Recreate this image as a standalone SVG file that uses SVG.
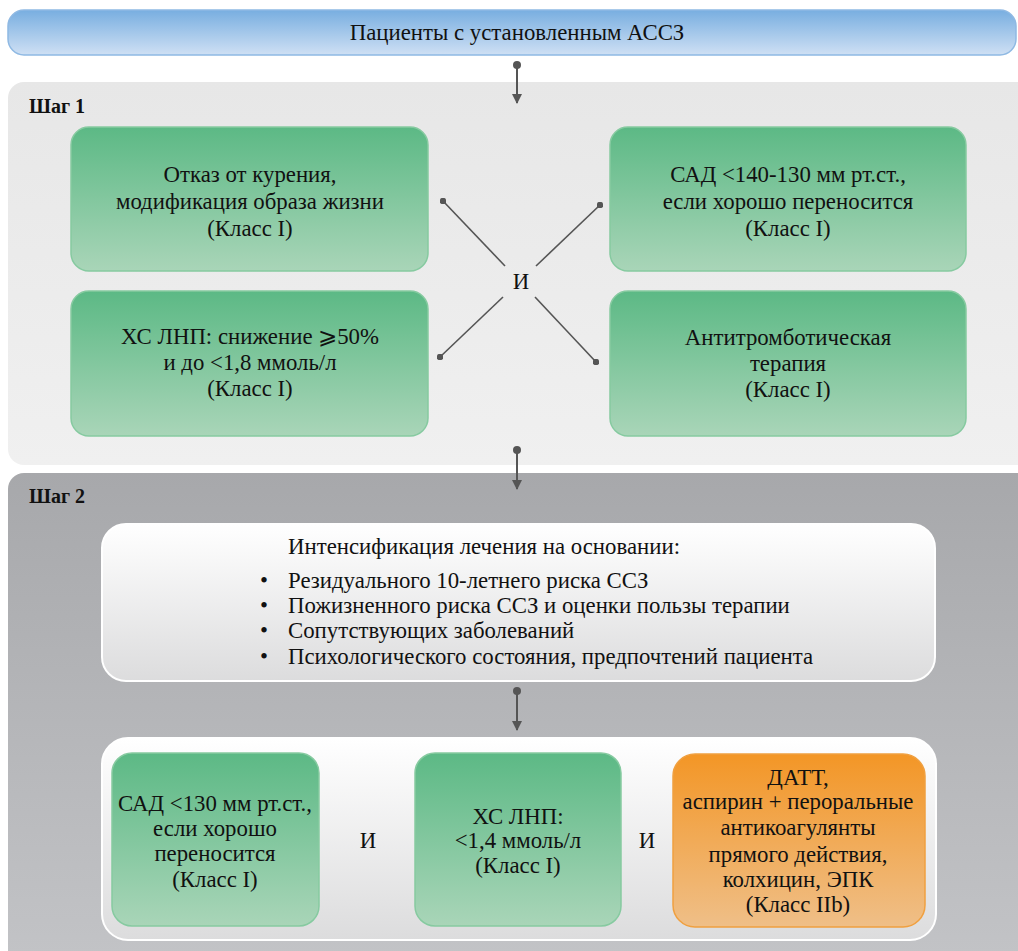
<svg xmlns="http://www.w3.org/2000/svg" width="1018" height="951" viewBox="0 0 1018 951">
  <defs>
    <linearGradient id="gBlue" x1="0" y1="0" x2="0" y2="1">
      <stop offset="0" stop-color="#78aee0"/>
      <stop offset="1" stop-color="#cfe0f4"/>
    </linearGradient>
    <linearGradient id="gStep1" x1="0" y1="0" x2="0" y2="1">
      <stop offset="0" stop-color="#e7e7e7"/>
      <stop offset="1" stop-color="#f0f0f0"/>
    </linearGradient>
    <linearGradient id="gStep2" x1="0" y1="0" x2="0" y2="1">
      <stop offset="0" stop-color="#a7a8ab"/>
      <stop offset="1" stop-color="#c3c4c7"/>
    </linearGradient>
    <linearGradient id="gWhite" x1="0" y1="0" x2="0" y2="1">
      <stop offset="0" stop-color="#ffffff"/>
      <stop offset="1" stop-color="#dcdcdd"/>
    </linearGradient>
    <linearGradient id="gGreen" x1="0" y1="0" x2="0" y2="1">
      <stop offset="0" stop-color="#5cb985"/>
      <stop offset="1" stop-color="#a9d5b8"/>
    </linearGradient>
    <linearGradient id="gOrange" x1="0" y1="0" x2="0" y2="1">
      <stop offset="0" stop-color="#f39626"/>
      <stop offset="1" stop-color="#efbf88"/>
    </linearGradient>
    <marker id="arrowHead" viewBox="0 0 10 10" refX="9" refY="5" markerWidth="5" markerHeight="5" markerUnits="strokeWidth" orient="auto">
      <path d="M0,0 L10,5 L0,10 Z" fill="#555555"/>
    </marker>
    <marker id="dot" viewBox="0 0 10 10" refX="5" refY="5" markerWidth="4" markerHeight="4" markerUnits="strokeWidth">
      <circle cx="5" cy="5" r="5" fill="#555555"/>
    </marker>
  </defs>
  <style>
    text { font-family: 'Liberation Serif', 'Times New Roman', 'DejaVu Serif', serif; fill: #111111; }
    .t { font-size: 22.8px; text-anchor: middle; }
    .b { font-size: 22.8px; }
    .step { font-size: 20px; font-weight: bold; }
    .green { fill: url(#gGreen); stroke: #86caa0; stroke-width: 1.5; }
    .orange { fill: url(#gOrange); stroke: #f0a040; stroke-width: 1.5; }
    .conn { stroke: #555555; stroke-width: 2; fill: none; }
    .cross { stroke: #555555; stroke-width: 1.6; fill: none; marker-start: url(#dot); }
  </style>

  <rect width="1018" height="951" fill="#ffffff"/>

  <!-- top banner -->
  <g id="patients">
    <rect x="8" y="10" width="1008" height="45" rx="16" fill="url(#gBlue)" stroke="#8fb9e3" stroke-width="1.5"/>
    <text class="t" x="517" y="40">Пациенты с установленным АССЗ</text>
  </g>

  <!-- step 1 panel -->
  <g id="step1">
    <rect x="8" y="82" width="1030" height="383" rx="16" fill="url(#gStep1)"/>
    <text class="step" x="29" y="113">Шаг 1</text>
  </g>

  <g id="smoking">
    <rect class="green" x="71" y="127" width="357" height="144" rx="18"/>
    <text class="t" x="250" y="182">Отказ от курения,</text>
    <text class="t" x="250" y="209">модификация образа жизни</text>
    <text class="t" x="250" y="236">(Класс I)</text>
  </g>

  <g id="sbp1">
    <rect class="green" x="610" y="127" width="356" height="144" rx="18"/>
    <text class="t" x="788" y="182">САД &lt;140-130 мм рт.ст.,</text>
    <text class="t" x="788" y="209">если хорошо переносится</text>
    <text class="t" x="788" y="236">(Класс I)</text>
  </g>

  <g id="ldl1">
    <rect class="green" x="71" y="291" width="357" height="145" rx="18"/>
    <text class="t" x="250" y="344">ХС ЛНП: снижение ⩾50%</text>
    <text class="t" x="250" y="370">и до &lt;1,8 ммоль/л</text>
    <text class="t" x="250" y="396">(Класс I)</text>
  </g>

  <g id="antithrombotic">
    <rect class="green" x="610" y="291" width="356" height="145" rx="18"/>
    <text class="t" x="788" y="345">Антитромботическая</text>
    <text class="t" x="788" y="371">терапия</text>
    <text class="t" x="788" y="397">(Класс I)</text>
  </g>

  <g id="and1">
    <text class="t" x="521" y="289">И</text>
  </g>

  <!-- step 2 panel -->
  <g id="step2">
    <rect x="8" y="473" width="1030" height="500" rx="16" fill="url(#gStep2)"/>
    <text class="step" x="29" y="503">Шаг 2</text>
  </g>

  <g id="intensification">
    <rect x="102" y="524" width="833" height="157" rx="24" fill="url(#gWhite)" stroke="#ffffff" stroke-width="2"/>
    <text class="b" x="288" y="554">Интенсификация лечения на основании:</text>
    <text class="b" x="260" y="588">•</text>
    <text class="b" x="288" y="588">Резидуального 10-летнего риска ССЗ</text>
    <text class="b" x="260" y="613">•</text>
    <text class="b" x="288" y="613">Пожизненного риска ССЗ и оценки пользы терапии</text>
    <text class="b" x="260" y="638">•</text>
    <text class="b" x="288" y="638">Сопутствующих заболеваний</text>
    <text class="b" x="260" y="664">•</text>
    <text class="b" x="288" y="664">Психологического состояния, предпочтений пациента</text>
  </g>

  <g id="targets">
    <rect x="102" y="738" width="834" height="202" rx="26" fill="url(#gWhite)" stroke="#ffffff" stroke-width="2"/>
  </g>

  <g id="sbp2">
    <rect class="green" x="112" y="753" width="207" height="173" rx="20"/>
    <text class="t" x="215" y="811">САД &lt;130 мм рт.ст.,</text>
    <text class="t" x="215" y="836">если хорошо</text>
    <text class="t" x="215" y="861">переносится</text>
    <text class="t" x="215" y="887">(Класс I)</text>
  </g>

  <g id="and2">
    <text class="t" x="368" y="848">И</text>
  </g>

  <g id="ldl2">
    <rect class="green" x="415" y="753" width="206" height="173" rx="20"/>
    <text class="t" x="518" y="824">ХС ЛНП:</text>
    <text class="t" x="518" y="848">&lt;1,4 ммоль/л</text>
    <text class="t" x="518" y="873">(Класс I)</text>
  </g>

  <g id="and3">
    <text class="t" x="647" y="848">И</text>
  </g>

  <g id="dapt">
    <rect class="orange" x="673" y="754" width="252" height="173" rx="22"/>
    <text class="t" x="798" y="785">ДАТТ,</text>
    <text class="t" x="798" y="809">аспирин + пероральные</text>
    <text class="t" x="798" y="835">антикоагулянты</text>
    <text class="t" x="798" y="862">прямого действия,</text>
    <text class="t" x="798" y="887">колхицин, ЭПК</text>
    <text class="t" x="798" y="912">(Класс IIb)</text>
  </g>

  <!-- connectors -->
  <g id="connectors">
    <line class="conn" x1="517" y1="65" x2="517" y2="103" marker-start="url(#dot)" marker-end="url(#arrowHead)"/>
    <line class="conn" x1="517" y1="450" x2="517" y2="489" marker-start="url(#dot)" marker-end="url(#arrowHead)"/>
    <line class="conn" x1="517" y1="691" x2="517" y2="730" marker-start="url(#dot)" marker-end="url(#arrowHead)"/>
    <line class="cross" x1="443" y1="201" x2="505" y2="266"/>
    <line class="cross" x1="600" y1="205" x2="536" y2="266"/>
    <line class="cross" x1="440" y1="357" x2="503" y2="297"/>
    <line class="cross" x1="596" y1="362" x2="535" y2="297"/>
  </g>
</svg>
